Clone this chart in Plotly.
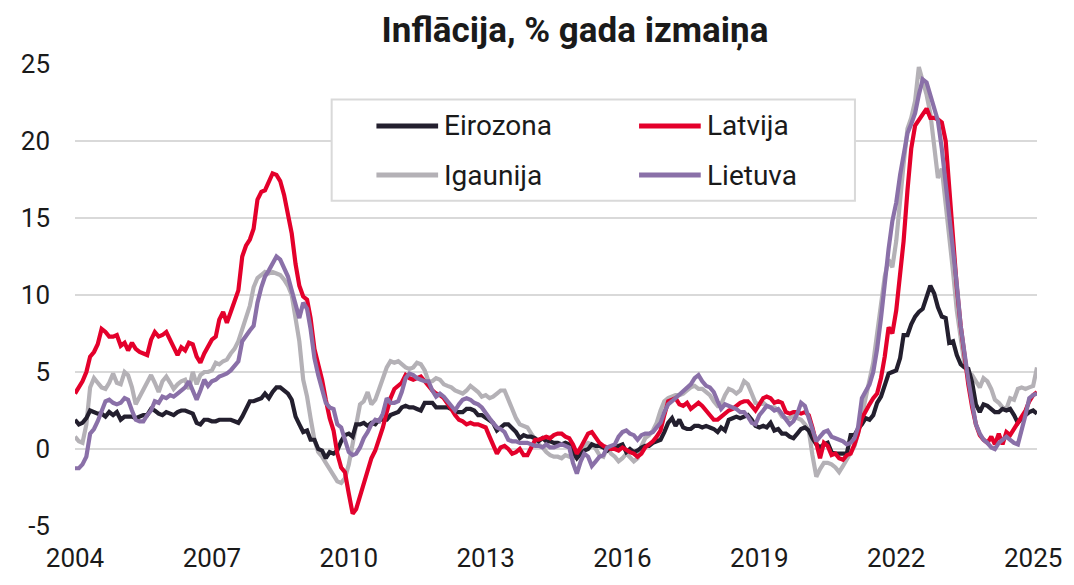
import pandas as pd
import plotly.graph_objects as go

# ---------------- data (monthly, y/y %, Jan 2004 - Feb 2025) ----------------
start_month = "2004-01-01"
n_months = 254
series_names = ["Eirozona", "Latvija", "Igaunija", "Lietuva"]
year_ticks = [2004, 2007, 2010, 2013, 2016, 2019, 2022, 2025]
y_ticks = [-5, 0, 5, 10, 15, 20, 25]

eirozona = [
    1.9, 1.6, 1.7, 2.0, 2.5, 2.4, 2.3, 2.3, 2.1, 2.4, 2.2, 2.4,
    1.9, 2.1, 2.1, 2.1, 2.0, 2.1, 2.2, 2.2, 2.6, 2.5, 2.3, 2.2,
    2.4, 2.3, 2.2, 2.4, 2.5, 2.5, 2.4, 2.3, 1.7, 1.6, 1.9, 1.9,
    1.8, 1.8, 1.9, 1.9, 1.9, 1.9, 1.8, 1.7, 2.1, 2.6, 3.1, 3.1,
    3.2, 3.3, 3.6, 3.3, 3.7, 4.0, 4.0, 3.8, 3.6, 3.2, 2.1, 1.6,
    1.1, 1.2, 0.6, 0.6, 0.0, -0.1, -0.6, -0.2, -0.3, -0.1, 0.5, 0.9,
    1.0, 0.8, 1.6, 1.6, 1.7, 1.5, 1.7, 1.6, 1.9, 1.9, 1.9, 2.2,
    2.3, 2.4, 2.7, 2.8, 2.7, 2.7, 2.6, 2.5, 3.0, 3.0, 3.0, 2.7,
    2.7, 2.7, 2.7, 2.6, 2.4, 2.4, 2.4, 2.6, 2.6, 2.5, 2.2, 2.2,
    2.0, 1.8, 1.7, 1.2, 1.4, 1.6, 1.6, 1.3, 1.1, 0.7, 0.9, 0.8,
    0.8, 0.7, 0.5, 0.7, 0.5, 0.5, 0.4, 0.4, 0.3, 0.4, 0.3, -0.2,
    -0.6, -0.3, -0.1, 0.0, 0.3, 0.2, 0.2, 0.1, -0.1, 0.1, 0.1, 0.2,
    0.3, -0.2, 0.0, -0.2, -0.1, 0.1, 0.2, 0.2, 0.4, 0.5, 0.6, 1.1,
    1.7, 2.0, 1.5, 1.9, 1.4, 1.3, 1.3, 1.5, 1.5, 1.4, 1.5, 1.4,
    1.3, 1.1, 1.4, 1.2, 1.9, 2.0, 2.1, 2.0, 2.1, 2.2, 1.9, 1.5,
    1.4, 1.5, 1.4, 1.7, 1.2, 1.3, 1.0, 1.0, 0.8, 0.7, 1.0, 1.3,
    1.4, 1.2, 0.7, 0.3, 0.1, 0.3, 0.4, -0.2, -0.3, -0.3, -0.3, -0.3,
    0.9, 0.9, 1.3, 1.6, 2.0, 1.9, 2.2, 3.0, 3.4, 4.1, 4.9, 5.0,
    5.1, 5.9, 7.4, 7.4, 8.1, 8.6, 8.9, 9.1, 9.9, 10.6, 10.1, 9.2,
    8.6, 8.5, 6.9, 7.0, 6.1, 5.5, 5.3, 5.2, 4.3, 2.9, 2.4, 2.9,
    2.8, 2.6, 2.4, 2.4, 2.6, 2.5, 2.6, 2.2, 1.7, 2.0, 2.2, 2.4,
    2.5, 2.3,
]

latvija = [
    3.6, 4.0, 4.4, 5.0, 6.0, 6.3, 6.8, 7.8, 7.6, 7.3,
    7.3, 7.4, 6.7, 6.9, 6.4, 6.9, 6.5, 6.3, 6.2, 6.1,
    7.1, 7.6, 7.3, 7.4, 7.6, 7.1, 6.6, 6.1, 6.6, 6.4,
    6.9, 6.8, 6.0, 5.6, 6.2, 6.7, 7.1, 7.3, 8.4, 8.9,
    8.2, 8.9, 9.6, 10.3,
    12.5, 13.2, 13.6, 14.3, 16.2, 16.7, 16.8, 17.4, 17.9, 17.8, 17.4, 16.5,
    15.3, 14.0, 12.0, 10.6, 9.9, 9.7, 8.5, 6.5, 5.5, 4.5,
    3.2, 2.0, 1.2, -0.3, -1.2, -1.5, -2.9, -4.2, -3.9, -3.0,
    -2.3, -1.3, -0.6, -0.1, 0.6, 1.4, 2.4, 3.3,
    3.9, 4.1, 4.3, 4.8, 4.6, 4.5, 4.6, 4.7, 4.4, 4.1,
    3.8, 3.6, 3.5, 3.3, 3.0, 2.6, 2.2, 1.9, 1.8, 1.6,
    1.7, 1.6, 1.6, 1.5, 1.4, 0.8, 0.3, -0.3, 0.1, 0.2,
    0.0, -0.3, -0.2, 0.0, -0.4, -0.4, 0.1, 0.6, 0.6, 0.7,
    0.8, 0.7,
    0.9, 1.0, 1.0, 0.8, 0.7, 0.3, -0.3, 0.1, 0.5, 1.0,
    1.1, 0.7, 0.4, 0.2, 0.1, 0.0, 0.0, -0.1, 0.1, -0.1,
    -0.2, -0.3, -0.5, -0.3, 0.1, 0.3, 0.5, 0.8, 1.2, 2.2,
    3.1, 3.2, 3.3, 2.9, 2.8, 3.0, 2.6, 2.8, 3.0, 2.8,
    2.5, 2.2, 1.9, 1.9, 2.1, 2.3, 2.5, 2.6, 2.8, 3.0,
    3.1, 3.1, 2.8, 2.5,
    2.9, 3.3, 3.4, 3.3, 3.0, 3.1, 3.0, 2.4, 2.3, 2.4,
    2.4, 2.3, 2.4, 2.2, 1.4, 0.3, -0.6, 0.4, 0.2, -0.4,
    -0.3, -0.6, -0.7, -0.4, -0.3, 0.3, 1.0, 2.0, 2.5, 2.9,
    3.3, 3.6, 4.6, 6.0,
    7.9, 7.5, 9.0, 11.2, 13.5, 16.8, 19.5, 21.0, 21.4, 21.8,
    22.1, 21.5, 21.5, 21.4, 21.2, 20.0, 17.0, 13.5, 10.5, 8.0,
    6.0, 4.2,
    2.7, 1.6, 0.9, 0.6, 0.4, 0.8, 0.3, 1.0, 0.3, 1.1,
    0.9, 1.3, 1.7, 2.1, 2.5, 3.1, 3.5, 3.7,
]

igaunija = [
    0.8, 0.5, 0.4, 1.6, 4.0, 4.6, 4.3, 4.0, 3.9, 4.3,
    4.9, 4.3, 4.2, 5.0, 4.8, 4.0, 2.9, 3.4, 3.9, 4.4,
    4.8, 4.3, 3.7, 4.4, 4.7, 4.3, 3.9, 4.2, 4.4, 4.5,
    3.9, 5.0, 4.2, 4.8, 5.0, 5.0, 5.1, 5.6, 5.5, 5.7,
    5.8, 6.2, 6.5, 7.0,
    7.8, 8.5, 9.3, 10.5, 11.1, 11.3, 11.5, 11.4, 11.5, 11.4,
    11.3, 11.0, 10.6, 10.0, 8.5, 7.0, 4.5, 3.4, 2.0, 0.6,
    -0.2, -0.5, -0.9, -1.3, -1.7, -2.1, -2.2, -1.9, -1.0, 0.3,
    1.6, 2.9, 3.1, 3.7, 2.9, 3.2, 3.9, 4.7, 5.3, 5.7,
    5.6, 5.7, 5.5, 5.3, 5.2, 5.3, 5.6, 5.5, 5.1, 4.4,
    4.4, 4.6, 4.5, 4.2, 4.1, 4.0, 3.8, 3.7, 3.6, 3.8,
    4.1, 3.9, 3.7, 3.4, 3.5, 3.3, 3.4, 3.6, 3.8, 3.8,
    3.2, 2.7, 2.0, 1.6, 1.5, 1.4, 1.0, 0.6, 0.3, 0.1,
    -0.2, -0.4,
    -0.5, -0.5, -0.6, -0.4, -0.5, -0.6, -0.5, -0.1, 0.2, 0.4,
    0.3, 0.0, -0.4, -0.5, 0.1, -0.3, -0.5, -0.8, -0.6, -0.3,
    -0.5, -0.8, -0.6, 0.2, 0.7, 0.9, 1.2, 1.7, 2.5, 3.1,
    3.3, 3.4, 3.5, 3.5, 3.6, 3.8, 4.0, 4.1, 3.9, 3.9,
    3.7, 3.5, 3.1, 2.8, 2.9, 3.5, 3.9, 3.8, 3.6, 3.8,
    4.4, 4.2, 3.6, 3.0,
    2.9, 3.0, 2.8, 2.7, 2.7, 2.5, 2.1, 2.0, 2.0, 2.2,
    2.0, 1.9, 1.6, 1.2, -0.4, -1.8, -1.3, -0.9, -0.9, -1.0,
    -1.2, -1.5, -1.1, -0.7, -0.3, 0.2, 1.0, 2.2, 3.4, 4.4,
    5.6, 7.5, 9.5, 11.2,
    12.3, 11.8, 13.5, 16.5, 18.5, 20.8, 21.5, 22.6, 24.8, 23.9,
    23.0, 21.8, 19.5, 17.6, 18.2, 16.0, 13.8, 11.5, 9.0, 7.0,
    5.5, 4.9,
    4.8, 4.4, 4.0, 4.6, 4.4, 3.9, 3.2, 3.0, 2.7, 2.6,
    3.3, 3.2, 3.9, 4.0, 3.9, 4.0, 4.1, 5.3,
]

lietuva = [
    -1.25, -1.25, -1.0, -0.5, 1.0, 1.3, 1.8, 2.4, 3.1, 3.2,
    3.0, 2.9, 3.0, 3.3, 3.2, 2.5, 1.9, 1.8, 1.8, 2.2,
    2.5, 3.1, 3.0, 3.4, 3.3, 3.5, 3.4, 3.6, 3.8, 4.0,
    4.4, 3.8, 3.2, 3.8, 4.5, 4.1, 4.4, 4.5, 4.7, 4.8,
    4.9, 5.1, 5.4, 5.7,
    7.0, 7.4, 7.7, 8.0, 9.5, 10.5, 11.2, 11.6, 12.0, 12.5,
    12.3, 11.8, 11.2, 10.3, 9.5, 8.5, 9.5, 9.1, 7.8, 5.9,
    4.8, 4.0, 3.0, 2.7, 2.6, 1.6, 1.4, 0.6, -0.2, -0.4,
    -0.3, 0.1, 0.7, 1.1, 1.6, 1.9, 1.8, 2.3, 3.3, 3.0,
    3.0, 3.1, 3.7, 4.6, 4.9, 4.8, 4.6, 4.5, 4.4, 4.4,
    3.8, 3.4, 3.6, 3.4, 3.1, 2.8, 2.5, 2.9, 3.2, 3.3,
    3.2, 3.0, 2.9, 2.7, 2.3, 2.0, 1.7, 1.4, 1.3, 1.1,
    0.6, 0.5, 0.5, 0.4, 0.4, 0.4, 0.3, 0.2, 0.2, 0.1,
    0.3, 0.1,
    0.1, 0.2, 0.3, 0.2, 0.1, -0.9, -1.6, -0.8, -0.3, -0.5,
    -1.1, -0.8, -0.5, -0.4, 0.1, 0.2, 0.3, 0.8, 1.1, 1.2,
    1.0, 0.9, 0.6, 0.9, 1.0, 1.0, 1.1, 1.4, 1.7, 2.4,
    2.9, 3.1, 3.3, 3.5, 3.7, 4.0, 4.2, 4.6, 4.8, 4.4,
    4.1, 4.0, 3.7, 3.1, 2.6, 2.9, 2.8, 2.7, 2.6, 2.4,
    2.4, 2.1, 1.7, 1.6,
    2.2, 2.5, 2.8, 2.7, 2.5, 2.6, 2.3, 1.9, 1.6, 1.8,
    2.3, 3.0, 2.8, 2.0, 1.2, 0.5, 0.8, 1.1, 1.2, 0.8,
    0.7, 0.6, 0.5, 0.3, 0.4, 0.7, 1.4, 3.3, 3.8, 4.2,
    5.0, 6.5, 8.5, 11.0,
    13.0, 14.8, 16.0, 17.8, 19.2, 20.5, 21.1, 21.8, 23.0, 24.0,
    23.8, 23.0, 22.3, 21.3, 19.5, 17.3, 15.2, 13.0, 10.7, 8.0,
    6.2, 4.5,
    3.0, 1.6, 1.0, 0.6, 0.4, 0.1, 0.0, 0.4, 0.6, 0.8,
    0.6, 0.4, 0.3, 1.2, 2.2, 3.3, 3.5, 3.6,
]

series_values = [eirozona, latvija, igaunija, lietuva]
colors = ["#231F2E", "#E4002B", "#B4B1B6", "#8A70A8"]
dates = pd.date_range(start_month, periods=n_months, freq="MS")

# ---------------- layout constants (pixels) ----------------
W, H = 1074, 585
PL, PR, PT, PB = 75, 1042, 64, 534   # plot area edges
FONT = "Roboto, Arial, sans-serif"
TXT = "#1A1A1A"


def px_x(px):
    return (px - PL) / (PR - PL)


def px_y(py):
    return (PB - py) / (PB - PT)


fig = go.Figure()
draw_order = [2, 0, 1, 3]  # gray first, purple on top
for i in draw_order:
    vals = series_values[i]
    fig.add_trace(go.Scatter(
        x=dates[:len(vals)], y=vals, mode="lines", name=series_names[i],
        line=dict(color=colors[i], width=4.2, shape="linear"),
        showlegend=False, hoverinfo="x+y+name",
    ))

fig.update_layout(
    width=W, height=H,
    margin=dict(l=PL, r=W - PR, t=PT, b=H - PB, pad=0),
    plot_bgcolor="white", paper_bgcolor="white",
    font=dict(family=FONT, color=TXT),
    title=dict(text="<b>Inflācija, % gada izmaiņa</b>", x=575 / W, xanchor="center",
               y=1 - 30 / H, yanchor="middle",
               font=dict(family=FONT, size=35, color=TXT)),
    showlegend=False,
)

fig.update_xaxes(
    range=[dates[0], dates[-1]],
    tickvals=[pd.Timestamp(f"{y}-01-01") for y in year_ticks],
    ticktext=[str(y) for y in year_ticks],
    showgrid=False, zeroline=False, showline=False, ticks="",
    tickfont=dict(size=26, color=TXT, family=FONT),
    ticklabelstandoff=14,
)
fig.update_yaxes(
    range=[-5, 25], tickvals=y_ticks, ticktext=[str(v) for v in y_ticks],
    showgrid=True, gridcolor="#D9D9D9", gridwidth=2,
    zeroline=False, showline=False, ticks="",
    tickfont=dict(size=26, color=TXT, family=FONT),
    ticklabelstandoff=24,
)

# ---------------- legend (boxed, two columns) ----------------
shapes = [dict(type="rect", xref="paper", yref="paper",
               x0=px_x(333), x1=px_x(859), y0=px_y(203), y1=px_y(100),
               line=dict(color="#D9D9D9", width=2), fillcolor="white", layer="above")]
annotations = []
legend_pos = {0: (378, 127), 1: (642, 127), 2: (378, 177), 3: (642, 177)}
for i, name in enumerate(series_names):
    lx, ly = legend_pos[i]
    shapes.append(dict(type="line", xref="paper", yref="paper",
                       x0=px_x(lx), x1=px_x(lx + 62), y0=px_y(ly), y1=px_y(ly),
                       line=dict(color=colors[i], width=5), layer="above"))
    annotations.append(dict(xref="paper", yref="paper", x=px_x(lx + 66), y=px_y(ly),
                            text=name, showarrow=False, xanchor="left", yanchor="middle",
                            font=dict(family=FONT, size=28, color=TXT)))
fig.update_layout(shapes=shapes, annotations=annotations)

fig.write_html("out.html", config={"displayModeBar": False},
               post_script="document.body.style.margin='0';")
